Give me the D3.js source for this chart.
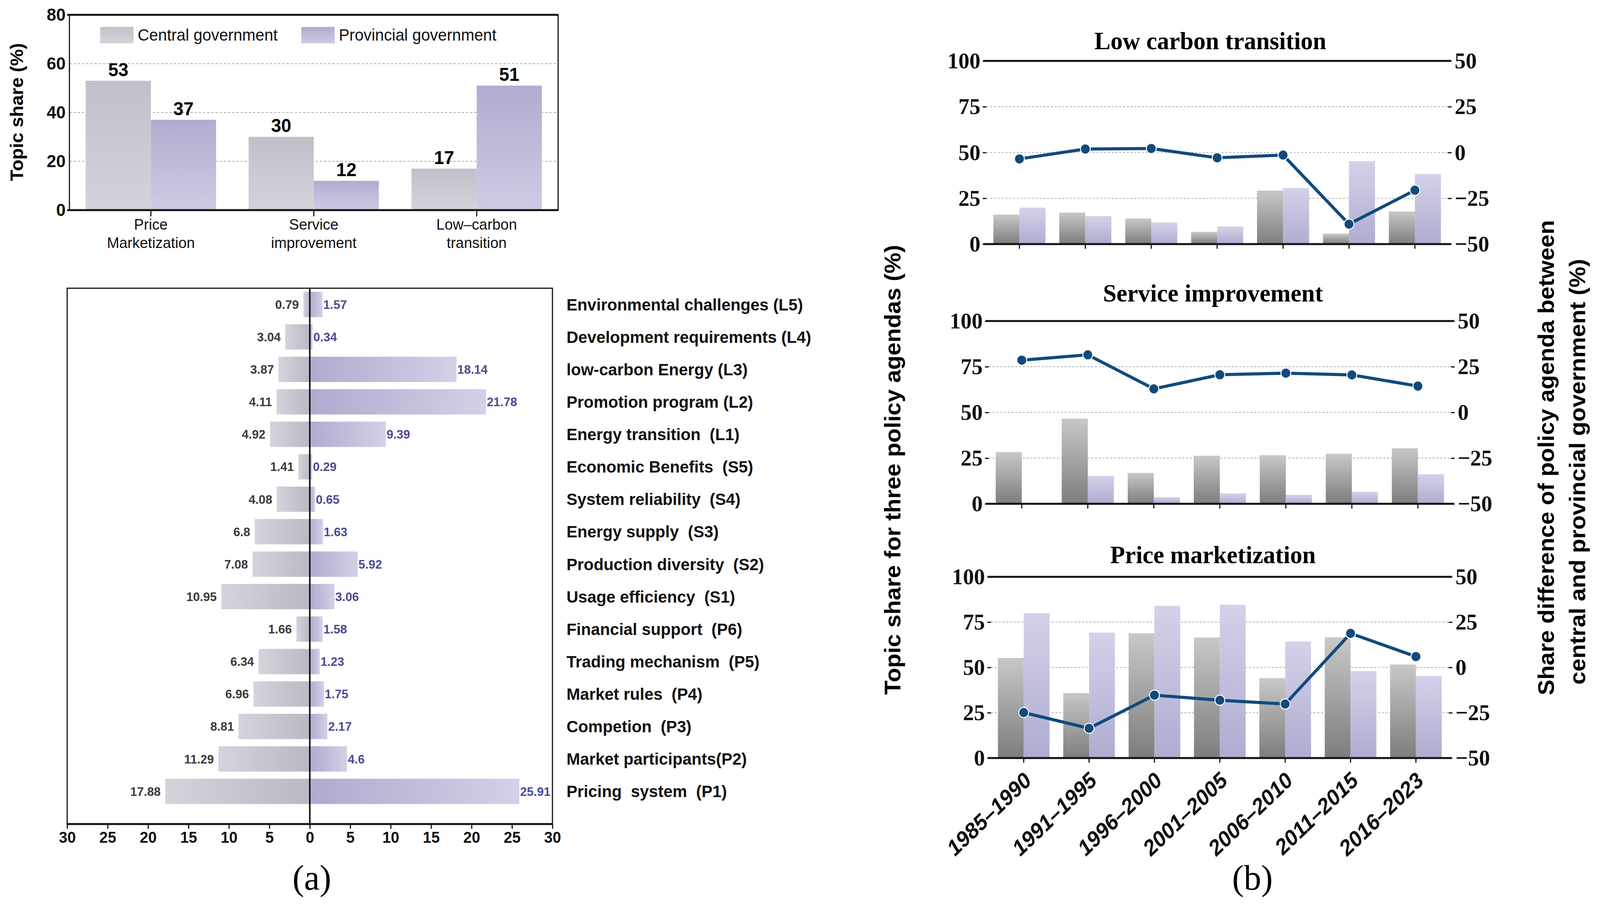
<!DOCTYPE html>
<html>
<head>
<meta charset="utf-8">
<title>Policy agendas</title>
<script src="https://cdn.jsdelivr.net/npm/d3@7"></script>
<style>
  html, body { margin: 0; background: #fff; overflow: hidden; }
  svg { display: block; width: 100vw; height: 100vh; }
  .sans { font-family: "Liberation Sans", Arial, sans-serif; }
  .serif { font-family: "Liberation Serif", "Times New Roman", serif; }
  .domain { display: none; }
</style>
</head>
<body>
<script>
// ---- data ----
var agendaLabels = [["Price", "Marketization"], ["Service", "improvement"], ["Low\u2013carbon", "transition"]];
var centralShare = [53, 30, 17];
var provincialShare = [37, 12, 51];

var topics = ["Environmental challenges (L5)", "Development requirements (L4)", "low-carbon Energy (L3)",
  "Promotion program (L2)", "Energy transition  (L1)", "Economic Benefits  (S5)", "System reliability  (S4)",
  "Energy supply  (S3)", "Production diversity  (S2)", "Usage efficiency  (S1)", "Financial support  (P6)",
  "Trading mechanism  (P5)", "Market rules  (P4)", "Competion  (P3)", "Market participants(P2)", "Pricing  system  (P1)"];
var topicCentral = [0.79, 3.04, 3.87, 4.11, 4.92, 1.41, 4.08, 6.8, 7.08, 10.95, 1.66, 6.34, 6.96, 8.81, 11.29, 17.88];
var topicProvincial = [1.57, 0.34, 18.14, 21.78, 9.39, 0.29, 0.65, 1.63, 5.92, 3.06, 1.58, 1.23, 1.75, 2.17, 4.6, 25.91];
var topicTicks = [-30, -25, -20, -15, -10, -5, 0, 5, 10, 15, 20, 25, 30];

var periods = ["1985\u20131990", "1991\u20131995", "1996\u20132000", "2001\u20132005", "2006\u20132010", "2011\u20132015", "2016\u20132023"];
var lowCarbonCentral = [16.1, 17.2, 14.0, 6.7, 29.2, 5.7, 17.8];
var lowCarbonProvincial = [19.9, 15.3, 11.8, 9.6, 30.6, 45.2, 38.3];
var lowCarbonDiff = [-3.5, 1.9, 2.2, -2.9, -1.4, -39.1, -20.6];
var serviceCentral = [28.3, 46.6, 16.9, 26.3, 26.6, 27.4, 30.4];
var serviceProvincial = [0, 15.3, 3.7, 5.7, 4.9, 6.6, 16.2];
var serviceDiff = [28.6, 31.5, 12.9, 20.6, 21.5, 20.5, 14.4];
var priceCentral = [55.2, 35.9, 68.8, 66.5, 44.1, 66.6, 51.6];
var priceProvincial = [80.0, 69.2, 84.0, 84.6, 64.3, 48.0, 45.3];
var priceDiff = [-24.9, -33.6, -15.3, -18.1, -20.2, 18.8, 6.0];

var W = 4217, H = 2325;
var lineColor = "#124a7c";

var svg = d3.select("body").append("svg")
    .attr("viewBox", "0 0 " + W + " " + H)
    .attr("preserveAspectRatio", "none");

// gradients
var defs = svg.append("defs");
function grad(id, horizontal, c0, c1) {
  var g = defs.append("linearGradient").attr("id", id)
      .attr("x1", 0).attr("y1", 0)
      .attr("x2", horizontal ? 1 : 0).attr("y2", horizontal ? 0 : 1);
  g.append("stop").attr("offset", "0%").attr("stop-color", c0);
  g.append("stop").attr("offset", "100%").attr("stop-color", c1);
}
grad("topGray", false, "#bfc0c8", "#d3d3db");
grad("topPurple", false, "#afacd0", "#cfcbe4");
grad("divGray", true, "#d4d4dd", "#b8b9c2");
grad("divPurple", true, "#aeabcf", "#d3d0e7");
grad("panGray", false, "#c8c8c8", "#7d7d7d");
grad("panPurple", false, "#d4d2e8", "#aeacd1");

// ================= (a) top: topic share =================
var shareBox = {x0: 183, x1: 1471, y0: 38, y1: 538};
var gTop = svg.append("g").attr("class", "sans");

var xa = d3.scaleBand().domain(d3.range(agendaLabels.length))
    .range([shareBox.x0, shareBox.x1]).paddingInner(0.2).paddingOuter(0.1);
var xaInner = d3.scaleBand().domain(["c", "p"]).range([0, xa.bandwidth()]);
var ya = d3.scaleLinear().domain([0, 80]).range([shareBox.y1, shareBox.y0]);

gTop.selectAll("line.grid").data([20, 40, 60]).enter().append("line")
    .attr("x1", shareBox.x0).attr("x2", shareBox.x1)
    .attr("y1", function(d) { return ya(d); }).attr("y2", function(d) { return ya(d); })
    .attr("stroke", "#aaa").attr("stroke-width", 2).attr("stroke-dasharray", "6,5");

var groups = gTop.selectAll("g.grp").data(d3.range(agendaLabels.length)).enter().append("g")
    .attr("transform", function(i) { return "translate(" + xa(i) + ",0)"; });
groups.append("rect")
    .attr("x", xaInner("c")).attr("width", xaInner.bandwidth())
    .attr("y", function(i) { return ya(centralShare[i]); })
    .attr("height", function(i) { return ya(0) - ya(centralShare[i]); })
    .attr("fill", "url(#topGray)");
groups.append("rect")
    .attr("x", xaInner("p")).attr("width", xaInner.bandwidth())
    .attr("y", function(i) { return ya(provincialShare[i]); })
    .attr("height", function(i) { return ya(0) - ya(provincialShare[i]); })
    .attr("fill", "url(#topPurple)");
groups.append("text")
    .attr("x", xaInner("c") + xaInner.bandwidth() / 2)
    .attr("y", function(i) { return ya(centralShare[i]) - 12; })
    .attr("text-anchor", "middle").attr("font-size", 48).attr("font-weight", "bold")
    .text(function(i) { return centralShare[i]; });
groups.append("text")
    .attr("x", xaInner("p") + xaInner.bandwidth() / 2)
    .attr("y", function(i) { return ya(provincialShare[i]) - 12; })
    .attr("text-anchor", "middle").attr("font-size", 48).attr("font-weight", "bold")
    .text(function(i) { return provincialShare[i]; });

// frame + axes
gTop.append("rect").attr("x", shareBox.x0).attr("y", shareBox.y0)
    .attr("width", shareBox.x1 - shareBox.x0).attr("height", shareBox.y1 - shareBox.y0)
    .attr("fill", "none").attr("stroke", "#111").attr("stroke-width", 3);
gTop.append("line").attr("x1", shareBox.x0 - 6).attr("x2", shareBox.x1).attr("y1", shareBox.y0).attr("y2", shareBox.y0)
    .attr("stroke", "#111").attr("stroke-width", 5);
gTop.append("line").attr("x1", shareBox.x0 - 6).attr("x2", shareBox.x1).attr("y1", shareBox.y1).attr("y2", shareBox.y1)
    .attr("stroke", "#111").attr("stroke-width", 5);

var yAxisA = gTop.append("g").attr("transform", "translate(" + shareBox.x0 + ",0)")
    .call(d3.axisLeft(ya).tickValues([0, 20, 40, 60, 80]).tickSize(0).tickPadding(10));
yAxisA.selectAll("text").attr("font-size", 45).attr("font-weight", "bold").attr("fill", "#111")
    .attr("font-family", "Liberation Sans, Arial, sans-serif");

gTop.selectAll("line.xt").data(d3.range(agendaLabels.length)).enter().append("line")
    .attr("x1", function(i) { return xa(i) + xa.bandwidth() / 2; })
    .attr("x2", function(i) { return xa(i) + xa.bandwidth() / 2; })
    .attr("y1", shareBox.y1).attr("y2", shareBox.y1 + 16)
    .attr("stroke", "#111").attr("stroke-width", 3);
var xl = gTop.selectAll("text.xl").data(d3.range(agendaLabels.length)).enter().append("text")
    .attr("text-anchor", "middle").attr("font-size", 39).attr("fill", "#111");
xl.selectAll("tspan").data(function(i) {
    return agendaLabels[i].map(function(s, k) { return {s: s, k: k, i: i}; });
  }).enter().append("tspan")
    .attr("x", function(d) { return xa(d.i) + xa.bandwidth() / 2; })
    .attr("y", function(d) { return 588 + d.k * 47; })
    .text(function(d) { return d.s; });

// legend
var legend = [["Central government", "url(#topGray)", 264], ["Provincial government", "url(#topPurple)", 794]];
legend.forEach(function(l) {
  gTop.append("rect").attr("x", l[2]).attr("y", 69).attr("width", 88).attr("height", 42).attr("fill", l[1]);
  gTop.append("text").attr("x", l[2] + 99).attr("y", 104).attr("font-size", 42).attr("fill", "#111")
      .text(l[0]);
});

gTop.append("text")
    .attr("transform", "translate(61,287) rotate(-90)")
    .attr("text-anchor", "middle").attr("font-size", 48).attr("font-weight", "bold")
    .text("Topic share (%)");

// ================= (a) bottom: diverging bars =================
var dv = {x0: 177, x1: 1456, y0: 738, y1: 2110};
var gDiv = svg.append("g").attr("class", "sans");
var xd = d3.scaleLinear().domain([-30, 30]).range([dv.x0, dv.x1]);
var yd = d3.scaleBand().domain(topics).range([dv.y0, 2068]).paddingInner(0.22).paddingOuter(0.11);

gDiv.selectAll("rect.c").data(topics).enter().append("rect")
    .attr("x", function(d, i) { return xd(-topicCentral[i]); })
    .attr("width", function(d, i) { return xd(0) - xd(-topicCentral[i]); })
    .attr("y", function(d) { return yd(d); }).attr("height", yd.bandwidth())
    .attr("fill", "url(#divGray)");
gDiv.selectAll("rect.p").data(topics).enter().append("rect")
    .attr("x", xd(0))
    .attr("width", function(d, i) { return xd(topicProvincial[i]) - xd(0); })
    .attr("y", function(d) { return yd(d); }).attr("height", yd.bandwidth())
    .attr("fill", "url(#divPurple)");
gDiv.selectAll("text.c").data(topics).enter().append("text")
    .attr("x", function(d, i) { return xd(-topicCentral[i]) - 12; })
    .attr("y", function(d) { return yd(d) + yd.bandwidth() / 2; })
    .attr("dy", "0.35em").attr("text-anchor", "end")
    .attr("font-size", 32).attr("font-weight", "bold").attr("fill", "#3b3b3b")
    .text(function(d, i) { return topicCentral[i]; });
gDiv.selectAll("text.p").data(topics).enter().append("text")
    .attr("x", function(d, i) { return xd(topicProvincial[i]) + 2; })
    .attr("y", function(d) { return yd(d) + yd.bandwidth() / 2; })
    .attr("dy", "0.35em")
    .attr("font-size", 32).attr("font-weight", "bold").attr("fill", "#4b4a94")
    .text(function(d, i) { return topicProvincial[i]; });
gDiv.selectAll("text.cat").data(topics).enter().append("text")
    .attr("x", 1493)
    .attr("y", function(d) { return yd(d) + yd.bandwidth() / 2; })
    .attr("dy", "0.35em").style("white-space", "pre")
    .attr("font-size", 43).attr("font-weight", "bold").attr("fill", "#111")
    .text(function(d) { return d; });

gDiv.append("rect").attr("x", dv.x0).attr("y", dv.y0)
    .attr("width", dv.x1 - dv.x0).attr("height", dv.y1 - dv.y0)
    .attr("fill", "none").attr("stroke", "#111").attr("stroke-width", 3);
gDiv.append("line").attr("x1", xd(0)).attr("x2", xd(0)).attr("y1", dv.y0).attr("y2", dv.y1)
    .attr("stroke", "#111").attr("stroke-width", 4);
var xAxisD = gDiv.append("g").attr("transform", "translate(0," + dv.y1 + ")")
    .call(d3.axisBottom(xd).tickValues(topicTicks).tickSize(12).tickPadding(8)
      .tickFormat(function(d) { return Math.abs(d); }));
xAxisD.selectAll("line").attr("stroke", "#111").attr("stroke-width", 3);
xAxisD.selectAll("text").attr("font-size", 40).attr("font-weight", "bold").attr("fill", "#111")
    .attr("font-family", "Liberation Sans, Arial, sans-serif");
gDiv.append("line").attr("x1", dv.x0).attr("x2", dv.x1).attr("y1", dv.y1).attr("y2", dv.y1)
    .attr("stroke", "#111").attr("stroke-width", 5);

// ================= (b) three panels =================
var panels = [
  {title: "Low carbon transition", c: lowCarbonCentral, p: lowCarbonProvincial, d: lowCarbonDiff,
   x0: 2600, x1: 3816, y0: 156, y1: 625, ty: 126},
  {title: "Service improvement", c: serviceCentral, p: serviceProvincial, d: serviceDiff,
   x0: 2606, x1: 3824, y0: 822, y1: 1290, ty: 772},
  {title: "Price marketization", c: priceCentral, p: priceProvincial, d: priceDiff,
   x0: 2612, x1: 3818, y0: 1477, y1: 1941, ty: 1442}
];

panels.forEach(function(pn, pi) {
  var g = svg.append("g");
  var x = d3.scaleBand().domain(periods).range([pn.x0, pn.x1]).paddingInner(0.21).paddingOuter(0.105);
  var xi = d3.scaleBand().domain(["c", "p"]).range([0, x.bandwidth()]);
  var yl = d3.scaleLinear().domain([0, 100]).range([pn.y1, pn.y0]);
  var yr = d3.scaleLinear().domain([-50, 50]).range([pn.y1, pn.y0]);

  g.selectAll("line.grid").data([25, 50, 75]).enter().append("line")
      .attr("x1", pn.x0).attr("x2", pn.x1)
      .attr("y1", function(d) { return yl(d); }).attr("y2", function(d) { return yl(d); })
      .attr("stroke", "#aaa").attr("stroke-width", 2).attr("stroke-dasharray", "5,5");

  g.selectAll("rect.c").data(periods).enter().append("rect")
      .attr("x", function(d) { return x(d) + xi("c"); }).attr("width", xi.bandwidth())
      .attr("y", function(d, i) { return yl(pn.c[i]); })
      .attr("height", function(d, i) { return yl(0) - yl(pn.c[i]); })
      .attr("fill", "url(#panGray)");
  g.selectAll("rect.p").data(periods).enter().append("rect")
      .attr("x", function(d) { return x(d) + xi("p"); }).attr("width", xi.bandwidth())
      .attr("y", function(d, i) { return yl(pn.p[i]); })
      .attr("height", function(d, i) { return yl(0) - yl(pn.p[i]); })
      .attr("fill", "url(#panPurple)");

  var line = d3.line()
      .x(function(d, i) { return x(periods[i]) + x.bandwidth() / 2; })
      .y(function(d) { return yr(d); });
  g.append("path").attr("d", line(pn.d))
      .attr("fill", "none").attr("stroke", lineColor).attr("stroke-width", 8);
  g.selectAll("circle").data(pn.d).enter().append("circle")
      .attr("cx", function(d, i) { return x(periods[i]) + x.bandwidth() / 2; })
      .attr("cy", function(d) { return yr(d); })
      .attr("r", 13).attr("fill", lineColor).attr("stroke", "#fff").attr("stroke-width", 2.5);

  // frame
  g.append("line").attr("x1", pn.x0 - 8).attr("x2", pn.x1 + 8).attr("y1", pn.y0).attr("y2", pn.y0)
      .attr("stroke", "#111").attr("stroke-width", 5);
  g.append("line").attr("x1", pn.x0 - 8).attr("x2", pn.x1 + 8).attr("y1", pn.y1).attr("y2", pn.y1)
      .attr("stroke", "#111").attr("stroke-width", 5);

  var la = g.append("g").attr("transform", "translate(" + pn.x0 + ",0)")
      .call(d3.axisLeft(yl).tickValues([0, 25, 50, 75, 100]).tickSize(10).tickPadding(6));
  var ra = g.append("g").attr("transform", "translate(" + pn.x1 + ",0)")
      .call(d3.axisRight(yr).tickValues([-50, -25, 0, 25, 50]).tickSize(10).tickPadding(8));
  [la, ra].forEach(function(a) {
    a.select(".domain").style("display", null).attr("stroke", "#111").attr("stroke-width", 3);
    a.selectAll("line").attr("stroke", "#111").attr("stroke-width", 3);
    a.selectAll("text").attr("font-size", 58).attr("font-weight", "bold").attr("fill", "#111")
        .attr("font-family", "Liberation Serif, Times New Roman, serif");
  });

  g.selectAll("line.xt").data(periods).enter().append("line")
      .attr("x1", function(d) { return x(d) + x.bandwidth() / 2; })
      .attr("x2", function(d) { return x(d) + x.bandwidth() / 2; })
      .attr("y1", pn.y1).attr("y2", pn.y1 + 12)
      .attr("stroke", "#111").attr("stroke-width", 3);

  g.append("text").attr("class", "serif")
      .attr("x", (pn.x0 + pn.x1) / 2 - 18).attr("y", pn.ty)
      .attr("text-anchor", "middle").attr("font-size", 64).attr("font-weight", "bold")
      .text(pn.title);

  if (pi === panels.length - 1) {
    g.selectAll("text.period").data(periods).enter().append("text").attr("class", "sans")
        .attr("transform", function(d) {
          return "translate(" + (x(d) + x.bandwidth() / 2 + 24) + "," + (pn.y1 + 62) + ") rotate(-43)";
        })
        .attr("text-anchor", "end").attr("font-size", 56).attr("font-weight", "bold")
        .attr("font-style", "italic").attr("fill", "#111")
        .text(function(d) { return d; });
  }
});

// axis titles for (b)
svg.append("text").attr("class", "sans")
    .attr("transform", "translate(2373,1203) rotate(-90)")
    .attr("text-anchor", "middle").attr("font-size", 60).attr("font-weight", "bold")
    .text("Topic share for three policy agendas (%)");
svg.append("text").attr("class", "sans")
    .attr("transform", "translate(4096,1172) rotate(-90)")
    .attr("text-anchor", "middle").attr("font-size", 60).attr("font-weight", "bold")
    .text("Share difference of policy agenda between");
svg.append("text").attr("class", "sans")
    .attr("transform", "translate(4178,1208) rotate(-90)")
    .attr("text-anchor", "middle").attr("font-size", 60).attr("font-weight", "bold")
    .text("central and provincial government (%)");

// panel letters
svg.append("text").attr("class", "serif").attr("x", 822).attr("y", 2278)
    .attr("text-anchor", "middle").attr("font-size", 92).text("(a)");
svg.append("text").attr("class", "serif").attr("x", 3301).attr("y", 2278)
    .attr("text-anchor", "middle").attr("font-size", 92).text("(b)");
</script>
</body>
</html>
